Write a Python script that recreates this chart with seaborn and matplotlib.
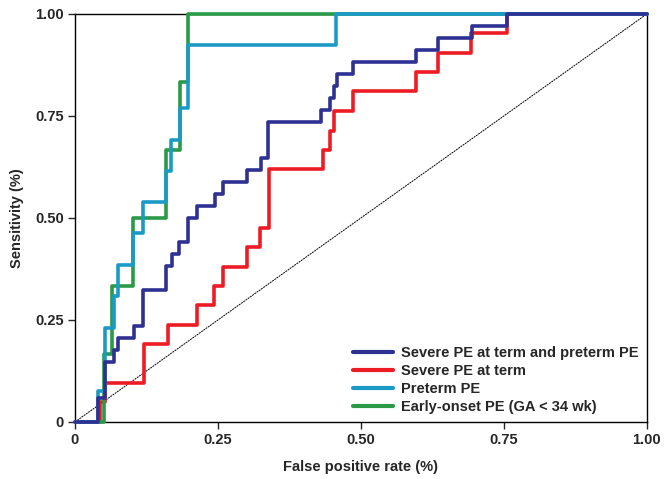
import matplotlib
matplotlib.use("Agg")
from matplotlib import pyplot as plt
import seaborn as sns

# ROC step corners (fpr where the curve steps up, tpr reached after the step)
both_fpr = [0, 0.041, 0.052, 0.068, 0.076, 0.103, 0.119, 0.159, 0.169, 0.182, 0.198, 0.213,
            0.245, 0.259, 0.300, 0.325, 0.338, 0.431, 0.446, 0.453, 0.459, 0.487, 0.596,
            0.635, 0.695, 0.756, 1.0]
both_tpr = [0, 0.059, 0.147, 0.176, 0.206, 0.235, 0.324, 0.382, 0.412, 0.441, 0.500, 0.529,
            0.559, 0.588, 0.618, 0.647, 0.735, 0.765, 0.794, 0.824, 0.853, 0.882, 0.912,
            0.941, 0.971, 1.0, 1.0]

term_fpr = [0, 0.044, 0.052, 0.121, 0.163, 0.213, 0.243, 0.259, 0.300, 0.323, 0.339, 0.433,
            0.446, 0.453, 0.487, 0.596, 0.635, 0.693, 0.756, 1.0]
term_tpr = [0, 0.048, 0.095, 0.190, 0.238, 0.286, 0.333, 0.381, 0.429, 0.476, 0.619, 0.667,
            0.714, 0.762, 0.810, 0.857, 0.905, 0.952, 1.0, 1.0]

preterm_fpr = [0, 0.041, 0.052, 0.068, 0.076, 0.101, 0.119, 0.159, 0.168, 0.184, 0.197, 0.456, 1.0]
preterm_tpr = [0, 0.077, 0.231, 0.308, 0.385, 0.462, 0.538, 0.615, 0.692, 0.769, 0.923, 1.0, 1.0]

early_fpr = [0, 0.050, 0.065, 0.101, 0.159, 0.184, 0.198, 1.0]
early_tpr = [0, 0.167, 0.333, 0.500, 0.667, 0.833, 1.0, 1.0]

labels = ["Severe PE at term and preterm PE", "Severe PE at term",
          "Preterm PE", "Early-onset PE (GA < 34 wk)"]
colors = ["#2E3192", "#ED1C24", "#1B9AC6", "#2A9A47"]
ticks = [0, 0.25, 0.5, 0.75, 1.0]
tick_labels = ["0", "0.25", "0.50", "0.75", "1.00"]

sns.set_style("ticks")
plt.rcParams["font.family"] = ["Liberation Sans Narrow", "Liberation Sans", "DejaVu Sans"]
plt.rcParams["font.weight"] = "bold"

fig = plt.figure(figsize=(6.69, 4.79), dpi=100)
ax = fig.add_axes([0.112, 0.119, 0.855, 0.852])

ax.plot([0, 1], [0, 1], color="black", lw=0.7, ls=(0, (2, 0.8)), zorder=1)

series = [(both_fpr, both_tpr), (term_fpr, term_tpr),
          (preterm_fpr, preterm_tpr), (early_fpr, early_tpr)]
zorders = [6, 3, 5, 4]
for (fx, ty), lab, col, z in zip(series, labels, colors, zorders):
    sns.lineplot(x=fx, y=ty, ax=ax, color=col, lw=2.6, drawstyle="steps-post",
                 estimator=None, sort=False, label=lab, zorder=z, clip_on=False)

ax.set_xlim(0, 1)
ax.set_ylim(0, 1)
ax.set_xticks(ticks)
ax.set_xticklabels(tick_labels)
ax.set_yticks(ticks)
ax.set_yticklabels(tick_labels)
ax.tick_params(direction="out", length=5, width=1, labelsize=10.5, pad=3)
for s in ax.spines.values():
    s.set_linewidth(1)
    s.set_color("black")
    s.set_zorder(2.5)

ax.set_xlabel("False positive rate (%)", fontsize=10.5, fontweight="bold", labelpad=9)
ax.set_ylabel("Sensitivity (%)", fontsize=10.5, fontweight="bold", labelpad=8)

leg = ax.legend(loc="lower right", bbox_to_anchor=(1.0, 0.0), frameon=False,
                fontsize=10.5, handlelength=2.75, handletextpad=0.6, labelspacing=0.28,
                borderaxespad=0.25, borderpad=0.3)
for line in leg.get_lines():
    line.set_linewidth(3)

fig.savefig("out.png", dpi=100)
